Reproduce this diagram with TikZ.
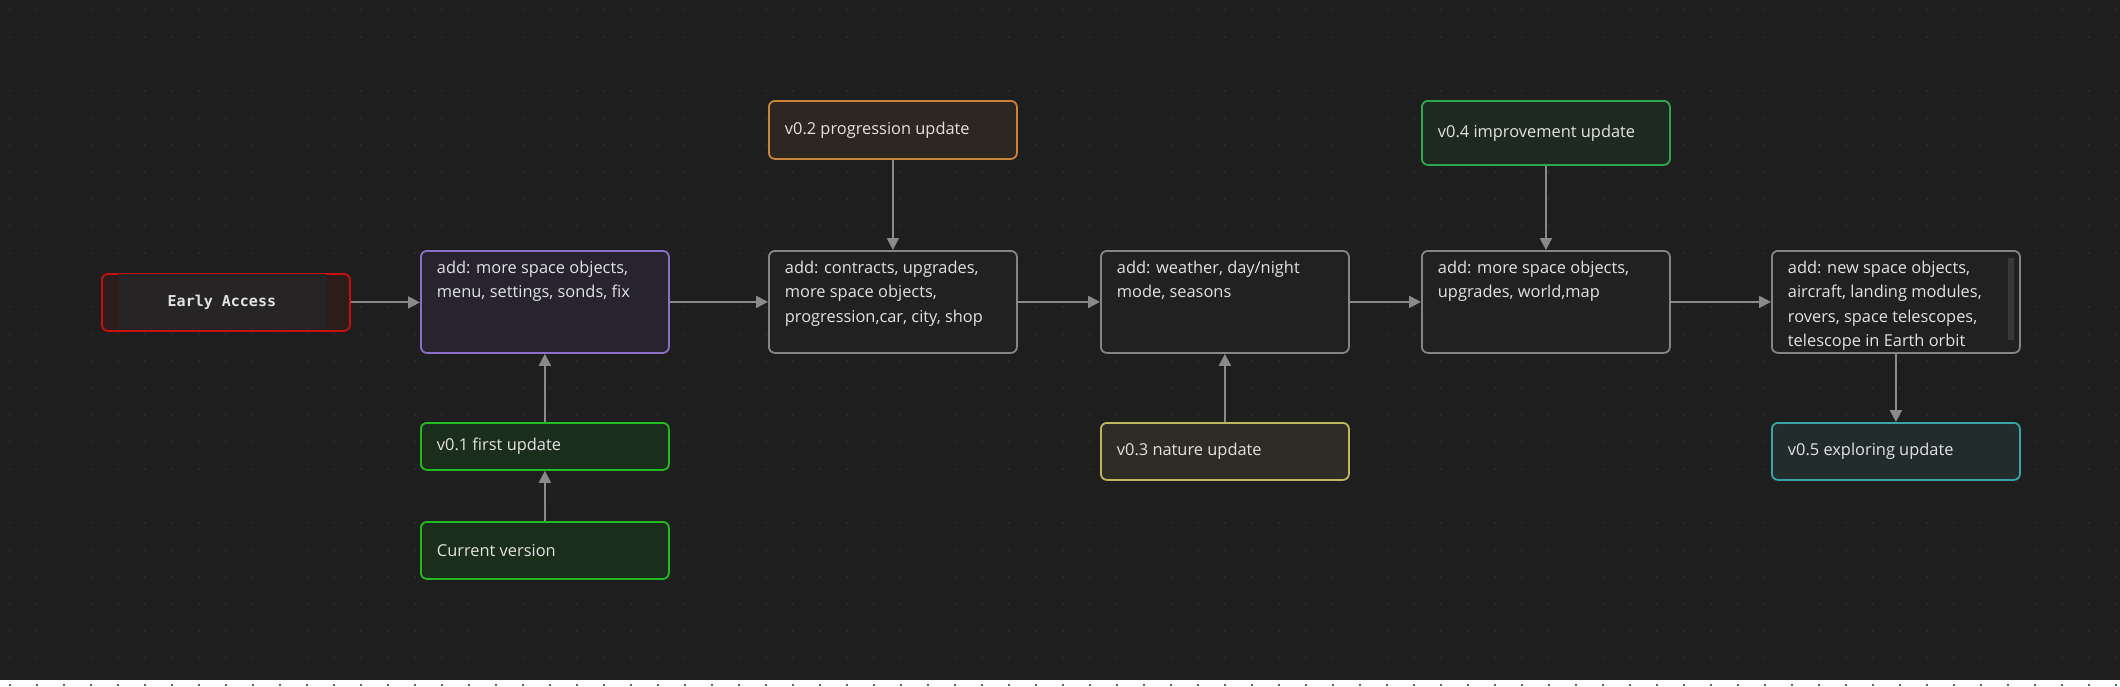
\documentclass[tikz,border=0pt]{standalone}
\usepackage{fontspec}
\setmainfont{Open Sans}
\newfontfamily\monof{DejaVu Sans Mono}
\usetikzlibrary{arrows.meta}
\definecolor{bgc}{HTML}{1E1E1E}
\definecolor{dotc}{HTML}{2E2E2E}
\definecolor{txt}{HTML}{E2E2E2}
\definecolor{arr}{HTML}{8A8A8A}
\definecolor{scr}{HTML}{383838}
\definecolor{redb}{HTML}{C81010}\definecolor{redf}{HTML}{2D1C1C}\definecolor{redi}{HTML}{262424}
\definecolor{purb}{HTML}{8A6FC7}\definecolor{purf}{HTML}{27232F}
\definecolor{grb}{HTML}{22BB22}\definecolor{grf}{HTML}{1B2E1B}
\definecolor{orb}{HTML}{C8843A}\definecolor{orf}{HTML}{2E2620}
\definecolor{g4b}{HTML}{2EA84E}\definecolor{g4f}{HTML}{1E2A21}
\definecolor{yeb}{HTML}{BDB85A}\definecolor{yef}{HTML}{2E2C24}
\definecolor{teb}{HTML}{3AA5A5}\definecolor{tef}{HTML}{222C2D}
\definecolor{plb}{HTML}{858585}\definecolor{plf}{HTML}{212121}
\tikzset{
  bx/.style={draw, rounded corners=3pt, line width=0.9pt, anchor=north west, inner xsep=8pt, inner ysep=0pt, text=txt, font=\fontsize{8.2}{12.2}\selectfont},
  plain/.style={bx, draw=plb, fill=plf},
  ar/.style={draw=arr, line width=1pt, -{Triangle[length=6pt,width=6pt]}},
}
\newcommand\tb[2]{\parbox[c][#1][t]{108pt}{\vspace*{5pt}\raggedright #2}}
\newcommand\cb[2]{\parbox[c][#1][c]{108pt}{\raggedright #2}}
\begin{document}
\begin{tikzpicture}[x=0.5pt,y=-0.5pt]
\fill[bgc] (0,0) rectangle (2120,680);
\foreach \i in {0,...,78} \foreach \j in {0,...,25} \fill[dotc] (\i*27+10,\j*27+10) circle (0.6pt);
% Early Access
\node[bx, draw=redb, fill=redf, inner xsep=0pt] (ea) at (101,273) {\parbox[c][28.5pt][c]{124pt}{\hspace*{8pt}\colorbox{redi}{\parbox[c][22pt][c]{98pt}{\centering\monof\bfseries\fontsize{7.5}{9}\selectfont Early Access}}}};
% main row
\node[bx, draw=purb, fill=purf] (b1) at (420,250) {\tb{51pt}{add: more space objects, menu, settings, sonds, fix}};
\node[plain] (b2) at (768,250) {\tb{51pt}{add: contracts, upgrades, more space objects, progression,car, city, shop}};
\node[plain] (b3) at (1100,250) {\tb{51pt}{add: weather, day/night mode, seasons}};
\node[plain] (b4) at (1421,250) {\tb{51pt}{add: more space objects, upgrades, world,map}};
\node[plain] (b5) at (1771,250) {\tb{51pt}{add: new space objects, aircraft, landing modules, rovers, space telescopes, telescope in Earth orbit}};
\fill[scr] (2008,258) rectangle (2014,340);
% versions
\node[bx, draw=grb, fill=grf] (v1) at (420,422) {\cb{23.5pt}{v0.1 first update}};
\node[bx, draw=grb, fill=grf] (cv) at (420,521) {\cb{28.5pt}{Current version}};
\node[bx, draw=orb, fill=orf] (v2) at (768,100) {\cb{29pt}{v0.2 progression update}};
\node[bx, draw=yeb, fill=yef] (v3) at (1100,422) {\cb{28.5pt}{v0.3 nature update}};
\node[bx, draw=g4b, fill=g4f] (v4) at (1421,100) {\cb{32pt}{v0.4 improvement update}};
\node[bx, draw=teb, fill=tef] (v5) at (1771,422) {\cb{28.5pt}{v0.5 exploring update}};
% arrows
\draw[ar] (ea.east) -- (b1.west |- ea.east);
\draw[ar] (b1.east) -- (b2.west);
\draw[ar] (b2.east) -- (b3.west);
\draw[ar] (b3.east) -- (b4.west);
\draw[ar] (b4.east) -- (b5.west);
\draw[ar] (cv.north) -- (v1.south);
\draw[ar] (v1.north) -- (b1.south);
\draw[ar] (v2.south) -- (b2.north);
\draw[ar] (v3.north) -- (b3.south);
\draw[ar] (v4.south) -- (b4.north);
\draw[ar] (b5.south) -- (v5.north);
\end{tikzpicture}
\end{document}
